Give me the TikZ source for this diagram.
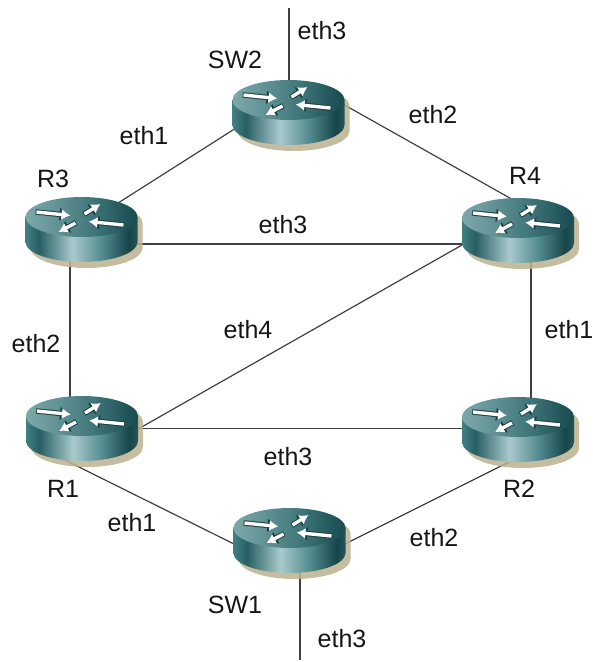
\documentclass[tikz,border=0pt]{standalone}
\usepackage{fontspec}
\setmainfont{Liberation Sans}
\usetikzlibrary{calc,arrows.meta}
\definecolor{sdA}{HTML}{427F83}
\definecolor{sdB}{HTML}{285F64}
\definecolor{sdC}{HTML}{A9CACC}
\definecolor{sdD}{HTML}{4E878B}
\definecolor{sdE}{HTML}{17454A}
\definecolor{sdF}{HTML}{235659}
\definecolor{tpA}{HTML}{7EA8AA}
\definecolor{tpB}{HTML}{5F9194}
\definecolor{tpC}{HTML}{407679}
\definecolor{tpD}{HTML}{1F5458}
\definecolor{tpE}{HTML}{1A4B4F}
\definecolor{shadowc}{HTML}{BCB291}
\definecolor{arrowedge}{HTML}{1B3F41}
\definecolor{linkc}{HTML}{404040}
\definecolor{labelc}{HTML}{151515}
\pgfdeclarehorizontalshading{rside}{100bp}{color(0bp)=(sdA); color(25bp)=(sdA); color(31bp)=(sdB); color(46bp)=(sdC); color(60bp)=(sdD); color(71bp)=(sdE); color(75bp)=(sdF); color(100bp)=(sdF)}
\pgfdeclarehorizontalshading{rtop}{100bp}{color(0bp)=(tpA); color(25bp)=(tpA); color(40bp)=(tpB); color(55bp)=(tpC); color(70bp)=(tpD); color(75bp)=(tpE); color(100bp)=(tpE)}
\tikzset{
  routerbox/.style={rectangle, draw=none, inner sep=0pt, minimum width=112pt, minimum height=65pt},
  link/.style={draw=linkc, line width=1.2pt},
  lbl/.style={anchor=base, inner sep=0pt, text=labelc, font=\fontsize{25}{30}\selectfont},
  arrowout/.style={draw=arrowedge, line width=5.4pt, -{Latex[length=11pt,width=14pt]}},
  arrowin/.style={draw=white, line width=3.4pt, -{Latex[length=9pt,width=11pt]}},
  routericon/.pic={
    \fill[shadowc, opacity=0.85] (-51,6.5) -- (-51,-18.5) arc[start angle=180,end angle=360,x radius=56,y radius=20] -- (61,6.5) arc[start angle=0,end angle=180,x radius=56,y radius=20] -- cycle;
    \shade[shading=rside] (-56,12.5) -- (-56,-12.5) arc[start angle=180,end angle=360,x radius=56,y radius=20] -- (56,12.5) -- cycle;
    \shade[shading=rtop] (0,12.5) ellipse[x radius=56,y radius=20];
    \begin{scope}[shift={(0,12.5)}]
      \foreach \a/\b in {{-45,5}/{-11,1.5}, {3,3}/{19,13}, {42,-8}/{7,-4.5}, {-6,-6}/{-23,-15}}{
        \draw[arrowout, shorten <=-0.8pt] (\a) -- (\b);
      }
      \foreach \a/\b in {{-45,5}/{-11,1.5}, {3,3}/{19,13}, {42,-8}/{7,-4.5}, {-6,-6}/{-23,-15}}{
        \draw[arrowin] (\a) -- (\b);
      }
    \end{scope}
  }
}
\begin{document}
\begin{tikzpicture}[x=1pt,y=1pt]
\useasboundingbox (0,0) rectangle (593,-662);
% nodes
\node[routerbox] (SW2) at (288.5,-112.5) {};
\node[routerbox] (R3) at (81.5,-229.5) {};
\node[routerbox] (R4) at (518,-230.5) {};
\node[routerbox] (R1) at (82,-428.5) {};
\node[routerbox] (R2) at (518,-429.5) {};
\node[routerbox] (SW1) at (289.5,-540.5) {};
\coordinate (topend) at (289,-8);
\coordinate (botend) at (300,-660);
% links
\draw[link] ($(SW2)+(0.5,20)$) -- (topend);
\draw[link] ($(SW2)+(-28.5,-0.3)$) -- ($(R3)+(18.5,15)$);
\draw[link] ($(SW2)+(31.5,21.3)$) -- ($(R4)+(0,27.9)$);
\draw[link] ($(R3)+(18.5,-14.5)$) -- ($(R4)+(-18,-13.5)$);
\draw[link] ($(R3)+(-11.5,-10.5)$) -- ($(R1)+(-12,8.5)$);
\draw[link] ($(R4)+(13,-10)$) -- ($(R2)+(13,9.5)$);
\draw[link] ($(R1)+(28,-16.5)$) -- ($(R4)+(-28,1.4)$);
\draw[link] ($(R1)+(18,0)$) -- ($(R2)+(-18,1)$);
\draw[link] ($(R1)+(-22,-29.1)$) -- ($(SW1)+(-29.5,-16.4)$);
\draw[link] ($(SW1)+(30.5,-16)$) -- ($(R2)+(2,-27)$);
\draw[link] ($(SW1)+(10.5,-19.5)$) -- (botend);
% icons
\foreach \n in {SW2,R3,R4,R1,R2,SW1}{
  \pic at (\n) {routericon};
}
% labels
\node[lbl] (lSW2) at (235,-68) {SW2};
\node[lbl] (lSW1) at (235,-613) {SW1};
\node[lbl] (lR3) at (53,-187) {R3};
\node[lbl] (lR4) at (525,-184) {R4};
\node[lbl] (lR1) at (63,-497) {R1};
\node[lbl] (lR2) at (519,-497) {R2};
\node[lbl] (e1) at (322,-39) {eth3};
\node[lbl] (e2) at (433,-123) {eth2};
\node[lbl] (e3) at (144,-144) {eth1};
\node[lbl] (e4) at (283,-233) {eth3};
\node[lbl] (e5) at (248,-338) {eth4};
\node[lbl] (e6) at (36,-352) {eth2};
\node[lbl] (e7) at (569,-338) {eth1};
\node[lbl] (e8) at (288,-465) {eth3};
\node[lbl] (e9) at (132,-531) {eth1};
\node[lbl] (e10) at (434,-546) {eth2};
\node[lbl] (e11) at (342,-647) {eth3};
\end{tikzpicture}
\end{document}
